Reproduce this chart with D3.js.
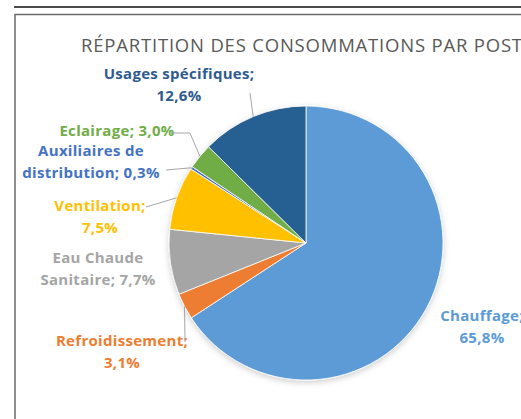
<!DOCTYPE html>
<html>
<head>
<meta charset="utf-8">
<script src="https://cdn.jsdelivr.net/npm/d3@7"></script>
<style>
  html, body { margin: 0; padding: 0; background: #fff; }
  svg { display: block; }
</style>
</head>
<body>
<svg id="chart" width="521" height="419"></svg>
<script>
// Consumption by end use, in percent
const categories = ["Chauffage", "Refroidissement", "Eau Chaude Sanitaire", "Ventilation",
                    "Auxiliaires de distribution", "Eclairage", "Usages spécifiques"];
const shares = [65.8, 3.1, 7.7, 7.5, 0.3, 3.0, 12.6];
const sliceColors = ["#5B9BD5", "#ED7D31", "#A5A5A5", "#FFC000", "#4472C4", "#70AD47", "#255E91"];
const labelColors = ["#5B9BD5", "#ED7D31", "#A5A5A5", "#FFC000", "#4472C4", "#70AD47", "#2F5B8F"];
// first line of each wrapped label (the rest goes on the second line)
const firstLines = ["Chauffage;", "Refroidissement;", "Eau Chaude", "Ventilation;",
                    "Auxiliaires de", null, "Usages spécifiques;"];
const title = "RÉPARTITION DES CONSOMMATIONS PAR POSTE";

const svg = d3.select("#chart");
const W = 521, H = 419;

// frame lines
svg.append("line").attr("x1", 14).attr("x2", W).attr("y1", 7).attr("y2", 7)
  .attr("stroke", "#4a4a4a").attr("stroke-width", 2);
svg.append("path").attr("d", `M15,${H} V14.5 H${W}`)
  .attr("fill", "none").attr("stroke", "#6b6b6b").attr("stroke-width", 1.5);

svg.append("text").attr("x", 81).attr("y", 52)
  .attr("font-family", "'Open Sans', sans-serif").attr("font-size", 18.5)
  .attr("letter-spacing", 0.8)
  .attr("fill", "#595959").text(title);

const defs = svg.append("defs");
const shadow = defs.append("filter").attr("id", "soft").attr("x", "-20%").attr("y", "-20%")
  .attr("width", "140%").attr("height", "140%");
shadow.append("feDropShadow").attr("dx", 0).attr("dy", 2).attr("stdDeviation", 3)
  .attr("flood-color", "#000").attr("flood-opacity", 0.2);

const cx = 306, cy = 243, r = 137;
const pie = d3.pie().sort(null).value(d => d);
const arcs = pie(shares);
const arc = d3.arc().innerRadius(0).outerRadius(r);
const edge = d3.arc().innerRadius(r).outerRadius(r);

const g = svg.append("g").attr("transform", `translate(${cx},${cy})`);
g.append("g").attr("filter", "url(#soft)")
  .selectAll("path").data(arcs).join("path")
  .attr("d", arc)
  .attr("fill", (d, i) => sliceColors[i])
  .attr("stroke", "#fff").attr("stroke-width", 0.8);

// data label layout: centre x, first baseline, and leader elbow points
const fmt = v => d3.format(".1f")(v).replace(".", ",") + "%";
const labelLayout = [
  { x: 482, y: 321, lead: null },
  { x: 122, y: 346, lead: [[185, 342]] },
  { x: 98,  y: 263, lead: null },
  { x: 100, y: 211, lead: [[146, 207]] },
  { x: 91,  y: 156, lead: [[166, 170]] },
  { x: 117, y: 136, lead: [[171, 133], [190, 133]] },
  { x: 179, y: 79,  lead: [[250, 93]] }
];

const labels = svg.append("g")
  .attr("font-family", "'Open Sans', sans-serif")
  .attr("font-weight", "bold").attr("font-size", 15)
  .attr("letter-spacing", 0.3)
  .attr("text-anchor", "middle");

arcs.forEach((a, i) => {
  const L = labelLayout[i];
  const pct = fmt(shares[i]);
  const full = categories[i] + "; " + pct;
  let lines;
  if (firstLines[i] === categories[i] + ";") {
    lines = [firstLines[i], pct];
  } else if (firstLines[i]) {
    lines = [firstLines[i], full.slice(firstLines[i].length).trim()];
  } else {
    lines = [full];
  }

  const t = labels.append("text").attr("fill", labelColors[i]);
  lines.forEach((s, k) => {
    t.append("tspan").attr("x", L.x).attr("y", L.y + k * 22).text(s);
  });

  if (L.lead) {
    const [ex, ey] = edge.centroid(a);
    const pts = [...L.lead, [cx + ex, cy + ey]];
    svg.append("path")
      .attr("d", d3.line()(pts))
      .attr("fill", "none").attr("stroke", "#a6a6a6").attr("stroke-width", 1);
  }
});
</script>
</body>
</html>
